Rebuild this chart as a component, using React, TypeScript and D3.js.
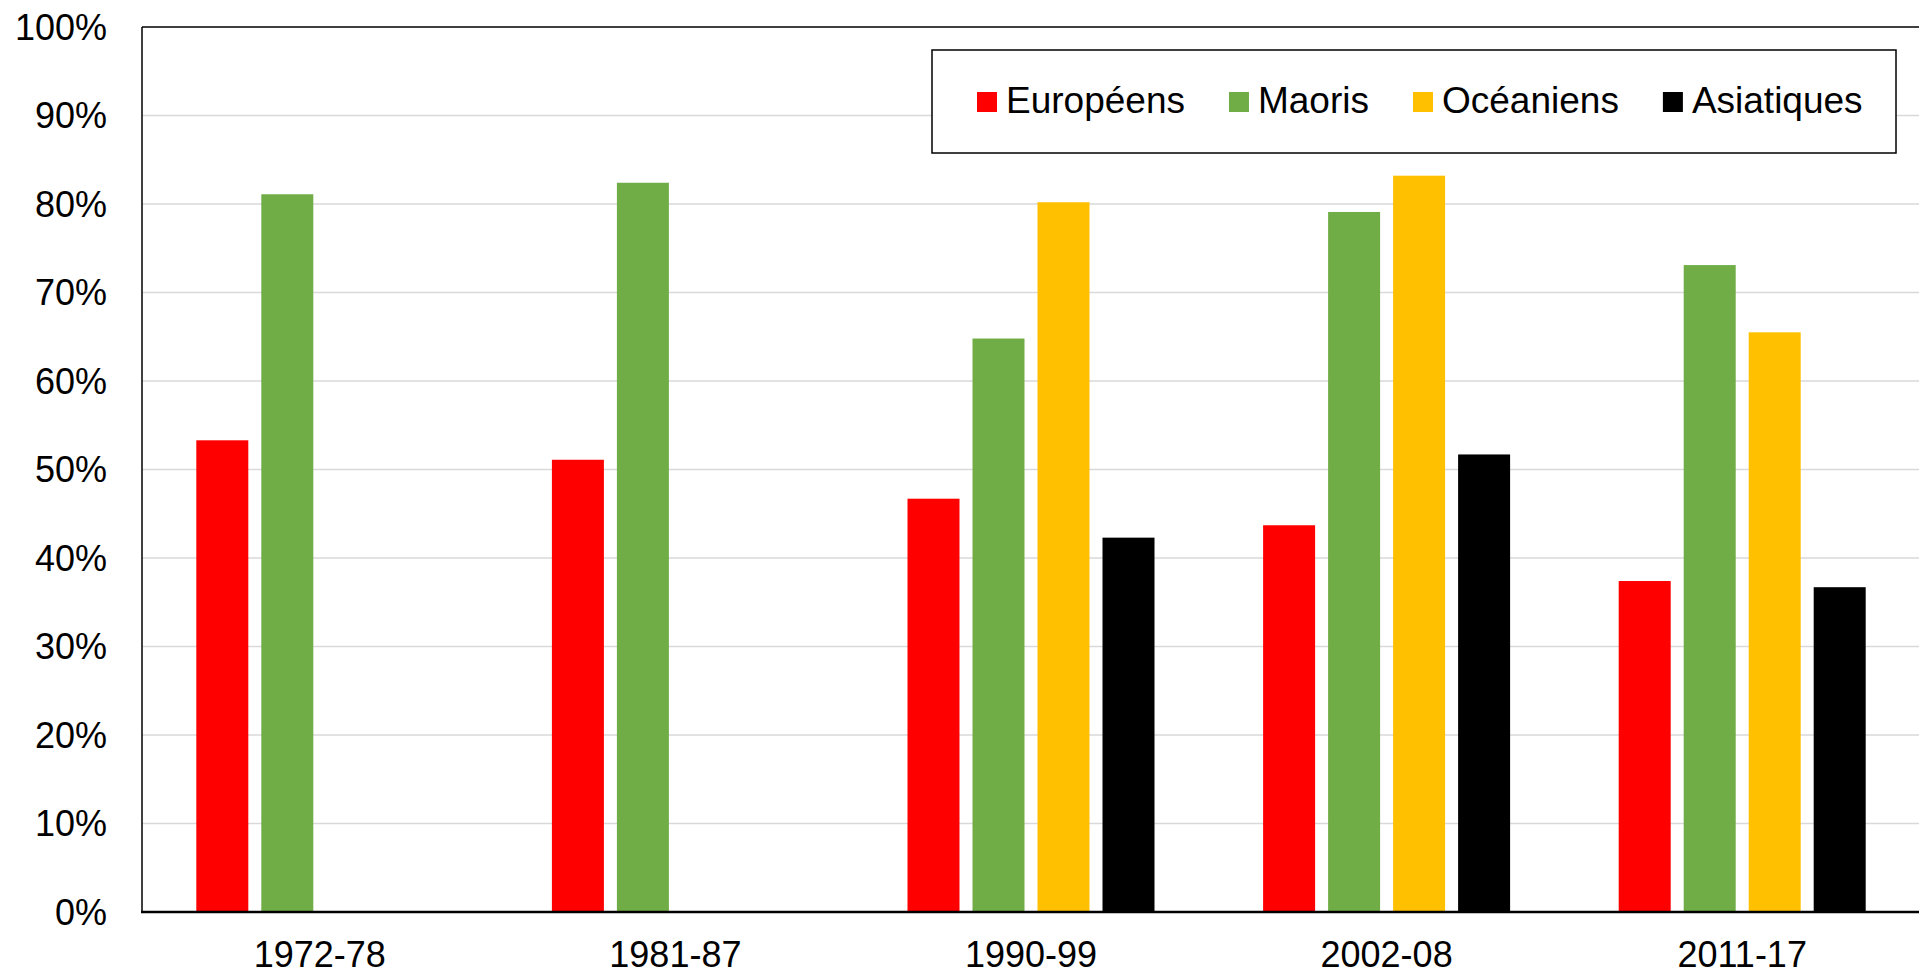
import React, { useEffect, useRef } from "react";
import * as d3 from "d3";

const categories = ["1972-78", "1981-87", "1990-99", "2002-08", "2011-17"];
const seriesNames = ["Européens", "Maoris", "Océaniens", "Asiatiques"];
const seriesColors = ["#FF0000", "#70AD47", "#FFC000", "#000000"];
const europeens = [53.3, 51.1, 46.7, 43.7, 37.4];
const maoris = [81.1, 82.4, 64.8, 79.1, 73.1];
const oceaniens = [null, null, 80.2, 83.2, 65.5];
const asiatiques = [null, null, 42.3, 51.7, 36.7];
const yTicks = [0, 10, 20, 30, 40, 50, 60, 70, 80, 90, 100];

const W = 1919;
const H = 975;
const FONT = "'Liberation Sans', Arial, sans-serif";

export default function App() {
  const ref = useRef<SVGSVGElement>(null);

  useEffect(() => {
    const svg = d3.select(ref.current);
    svg.selectAll("*").remove();

    const left = 142, right = 1920, top = 27, bottom = 912;
    const values = [europeens, maoris, oceaniens, asiatiques];

    const x0 = d3.scaleBand<string>().domain(categories).range([left, right]).padding(0);
    const groupW = 247;
    const x1 = d3.scaleBand<string>().domain(seriesNames).range([0, groupW]).paddingInner(0.2);
    const y = d3.scaleLinear().domain([0, 100]).range([bottom, top]);

    // gridlines
    svg.append("g")
      .selectAll("line")
      .data(yTicks.filter((t) => t > 0 && t < 100))
      .join("line")
      .attr("x1", left)
      .attr("x2", W)
      .attr("y1", (d) => y(d))
      .attr("y2", (d) => y(d))
      .attr("stroke", "#d9d9d9")
      .attr("stroke-width", 1.5);

    // top border
    svg.append("line")
      .attr("x1", left).attr("x2", W)
      .attr("y1", y(100)).attr("y2", y(100))
      .attr("stroke", "#000").attr("stroke-width", 1.3);

    // bars
    const off = (x0.bandwidth() - groupW) / 2;
    const g = svg.append("g");
    categories.forEach((c, ci) => {
      seriesNames.forEach((s, si) => {
        const v = values[si][ci];
        if (v == null) return;
        g.append("rect")
          .attr("x", (x0(c) as number) + off + (x1(s) as number))
          .attr("y", y(v))
          .attr("width", x1.bandwidth())
          .attr("height", y(0) - y(v))
          .attr("fill", seriesColors[si]);
      });
    });

    // left axis line
    svg.append("line")
      .attr("x1", left).attr("x2", left)
      .attr("y1", y(100)).attr("y2", y(0))
      .attr("stroke", "#000").attr("stroke-width", 1.5);

    // bottom axis line
    svg.append("line")
      .attr("x1", left - 1).attr("x2", W)
      .attr("y1", y(0)).attr("y2", y(0))
      .attr("stroke", "#000").attr("stroke-width", 2.5);

    // y tick labels
    svg.append("g")
      .selectAll("text")
      .data(yTicks)
      .join("text")
      .attr("x", 107)
      .attr("y", (d) => y(d))
      .attr("dy", "0.36em")
      .attr("text-anchor", "end")
      .attr("font-family", FONT)
      .attr("font-size", 36)
      .attr("fill", "#000")
      .text((d) => `${d}%`);

    // x labels
    svg.append("g")
      .selectAll("text")
      .data(categories)
      .join("text")
      .attr("x", (d) => (x0(d) as number) + x0.bandwidth() / 2)
      .attr("y", 967)
      .attr("text-anchor", "middle")
      .attr("font-family", FONT)
      .attr("font-size", 36)
      .attr("fill", "#000")
      .text((d) => d);

    // legend
    const lg = svg.append("g");
    lg.append("rect")
      .attr("x", 932).attr("y", 50)
      .attr("width", 964).attr("height", 103)
      .attr("fill", "#fff")
      .attr("stroke", "#000").attr("stroke-width", 1.5);
    let cx = 977;
    seriesNames.forEach((s, i) => {
      lg.append("rect")
        .attr("x", cx).attr("y", 92)
        .attr("width", 20).attr("height", 20)
        .attr("fill", seriesColors[i]);
      const t = lg.append("text")
        .attr("x", cx + 29).attr("y", 113)
        .attr("font-family", FONT)
        .attr("font-size", 37)
        .attr("fill", "#000")
        .text(s);
      const w = (t.node() as SVGTextElement).getComputedTextLength();
      cx = cx + 29 + w + 44;
    });
  }, []);

  return (
    <svg
      ref={ref}
      width={W}
      height={H}
      style={{ position: "absolute", left: 0, top: 0, background: "#fff" }}
    />
  );
}
